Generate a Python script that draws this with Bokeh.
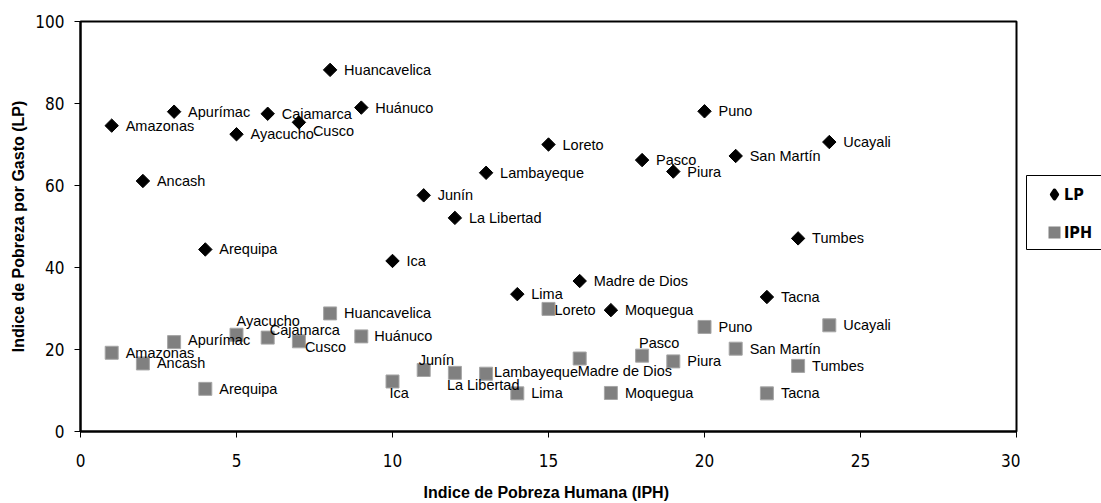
import math
from bokeh.plotting import figure
from bokeh.layouts import row
from bokeh.models import (ColumnDataSource, Range1d, SingleIntervalTicker, Legend, LegendItem,
                          BoxAnnotation)
from bokeh.core.properties import value
from bokeh.embed import file_html
from bokeh.resources import INLINE

# ---- data ----
departamentos = ["Amazonas", "Ancash", "Apurímac", "Arequipa", "Ayacucho", "Cajamarca",
                 "Cusco", "Huancavelica", "Huánuco", "Ica", "Junín", "La Libertad",
                 "Lambayeque", "Lima", "Loreto", "Madre de Dios", "Moquegua", "Pasco",
                 "Piura", "Puno", "San Martín", "Tacna", "Tumbes", "Ucayali"]
iph_x = [1, 2, 3, 4, 5, 6, 7, 8, 9, 10, 11, 12, 13, 14, 15, 16, 17, 18, 19, 20, 21, 22, 23, 24]
lp = [74.6, 61.1, 78.0, 44.4, 72.5, 77.5, 75.4, 88.2, 79.0, 41.6, 57.6, 52.1,
      63.1, 33.5, 70.0, 36.7, 29.6, 66.2, 63.4, 78.1, 67.2, 32.8, 47.1, 70.6]
iph = [19.2, 16.6, 21.8, 10.4, 23.6, 22.9, 22.0, 28.8, 23.2, 12.2, 15.0, 14.3,
       14.1, 9.3, 29.9, 17.8, 9.4, 18.5, 17.1, 25.5, 20.2, 9.3, 16.0, 25.9]
series_names = ["LP", "IPH"]
x_ticks_step = 5
y_ticks_step = 20

# ---- label placement (screen px offsets, style only) ----
lp_dx = [14, 14, 14, 14, 14, 14, 14, 14, 14, 14, 14, 14, 14, 14, 14, 14, 14, 14, 14, 14, 14, 14, 14, 14]
lp_dy = [0, 0, 0, 0, 0, 0, 9, 0, 0, 0, 0, 0, 0, 0, 0, 0, 0, 0, 0, 0, 0, 0, 0, 0]
iph_dx = [14, 14, 14, 14, 0, 2, 6, 14, 13, -3, -5, -8, 8, 14, 6, -2, 14, -3, 14, 14, 14, 14, 14, 14]
iph_dy = [0, 0, -2, 0, -14, -8, 6, 0, 0, 12, -10, 12, -2, 0, 1, 12, 0, -13, 0, 0, 0, 0, 0, 0]

NARROW = "'Liberation Sans Narrow', 'Arial Narrow', 'DejaVu Sans Condensed', sans-serif"
SANS = "Liberation Sans"

src_lp = ColumnDataSource(dict(x=iph_x, y=lp, name=departamentos, dx=lp_dx, dy=lp_dy))
src_iph = ColumnDataSource(dict(x=iph_x, y=iph, name=departamentos, dx=iph_dx, dy=iph_dy))

p = figure(width=1020, height=503, output_backend="svg", toolbar_location=None,
           x_range=Range1d(0, 30), y_range=Range1d(0, 100),
           min_border_left=80, min_border_right=4, min_border_top=21, min_border_bottom=71)
p.background_fill_color = "white"
p.border_fill_color = "white"
p.outline_line_color = "black"
p.outline_line_width = 2
p.xgrid.visible = False
p.ygrid.visible = False

p.xaxis.ticker = SingleIntervalTicker(interval=x_ticks_step)
p.yaxis.ticker = SingleIntervalTicker(interval=y_ticks_step)
for ax in (p.xaxis, p.yaxis):
    ax.axis_line_width = 2
    ax.axis_line_color = "black"
    ax.major_tick_in = 0
    ax.major_tick_out = 6
    ax.major_tick_line_color = "black"
    ax.minor_tick_line_color = None
    ax.major_label_text_font = NARROW
    ax.major_label_text_font_size = "17px"
    ax.major_label_text_color = "black"
    ax.axis_label_text_font = SANS
    ax.axis_label_text_font_style = "bold"
    ax.axis_label_text_font_size = "16px"
    ax.axis_label_text_color = "black"
p.xaxis.axis_label = "Indice de Pobreza Humana  (IPH)"
p.yaxis.axis_label = "Indice de Pobreza por Gasto (LP)"
p.xaxis.major_label_standoff = 16
p.xaxis.axis_label_standoff = 14
p.yaxis.major_label_standoff = 10
p.yaxis.axis_label_standoff = 5

# markers
p.scatter(x="x", y="y", source=src_iph, marker="square", size=13,
          fill_color="#808080", line_color="#a6a6a6", line_width=1)
p.scatter(x="x", y="y", source=src_lp, marker="square", size=9.5, angle=math.pi / 4,
          fill_color="black", line_color="black")

# labels
for src in (src_lp, src_iph):
    p.text(x="x", y="y", text="name", source=src, x_offset="dx", y_offset="dy",
           text_font=value(SANS), text_font_size="14.5px", text_color="black",
           text_align="left", text_baseline="middle")

# ---- legend panel (separate small figure with same vertical borders) ----
pl = figure(width=81, height=503, output_backend="svg", toolbar_location=None,
            x_range=Range1d(-10, -9), y_range=Range1d(-10, -9),
            x_axis_location=None, y_axis_location=None,
            min_border_left=5, min_border_right=0, min_border_top=21, min_border_bottom=71)
pl.xgrid.visible = False
pl.ygrid.visible = False
pl.background_fill_color = "white"
pl.border_fill_color = "white"
pl.outline_line_color = None
# same series (outside the visible range) only to supply legend glyph styles
leg_lp = pl.scatter(x="x", y="y", source=src_lp, marker="diamond",
                    fill_color="black", line_color="black", line_width=4, line_join="round")
leg_iph = pl.scatter(x="x", y="y", source=src_iph, marker="square",
                     fill_color="#808080", line_color="#808080", line_width=4, line_join="miter")

box = BoxAnnotation(left=1, right=120, bottom=182, top=256,
                    left_units="screen", right_units="screen",
                    bottom_units="screen", top_units="screen",
                    fill_alpha=0.0, line_color="black", line_width=1, line_alpha=1.0)
pl.add_layout(box)

legend = Legend(items=[LegendItem(label=series_names[0], renderers=[leg_lp], index=0),
                       LegendItem(label=series_names[1], renderers=[leg_iph], index=0)],
                location=(19, 183), orientation="vertical",
                padding=0, spacing=6, margin=0,
                glyph_height=32, glyph_width=20, label_height=32, label_standoff=0,
                border_line_color=None, background_fill_alpha=0.0,
                label_text_font=NARROW, label_text_font_style="bold",
                label_text_font_size="16px", label_text_color="black")
pl.add_layout(legend, "center")

layout = row(p, pl, spacing=0)
open("out.html", "w").write(file_html(layout, INLINE))
